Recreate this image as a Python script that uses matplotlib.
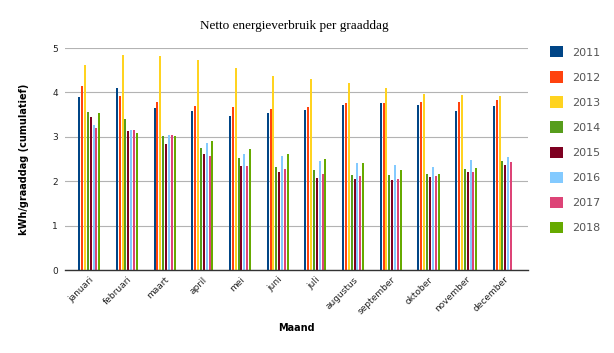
import matplotlib

matplotlib.use("Agg")
import matplotlib.pyplot as plt
import numpy as np

months = ["januari", "februari", "maart", "april", "mei", "juni", "juli",
          "augustus", "september", "oktober", "november", "december"]
years = ["2011", "2012", "2013", "2014", "2015", "2016", "2017", "2018"]

v2011 = [3.90, 4.10, 3.65, 3.58, 3.48, 3.54, 3.60, 3.72, 3.76, 3.72, 3.59, 3.70]
v2012 = [4.14, 3.91, 3.79, 3.69, 3.67, 3.63, 3.67, 3.77, 3.76, 3.79, 3.79, 3.84]
v2013 = [4.62, 4.85, 4.83, 4.73, 4.55, 4.38, 4.30, 4.22, 4.09, 3.97, 3.94, 3.91]
v2014 = [3.56, 3.40, 3.02, 2.75, 2.52, 2.33, 2.25, 2.14, 2.14, 2.16, 2.28, 2.46]
v2015 = [3.45, 3.13, 2.84, 2.61, 2.34, 2.21, 2.08, 2.05, 2.02, 2.10, 2.21, 2.36]
v2016 = [3.27, 3.16, 3.04, 2.86, 2.62, 2.57, 2.45, 2.41, 2.36, 2.33, 2.48, 2.55]
v2017 = [3.20, 3.16, 3.04, 2.57, 2.35, 2.27, 2.16, 2.11, 2.05, 2.12, 2.21, 2.43]
v2018 = [3.54, 3.08, 3.02, 2.90, 2.73, 2.61, 2.50, 2.41, 2.25, 2.16, 2.30, np.nan]

series = [v2011, v2012, v2013, v2014, v2015, v2016, v2017, v2018]
colors = ["#004586", "#ff420e", "#ffd320", "#579d1c", "#7e0021",
          "#83caff", "#dd4477", "#66aa00"]

fig = plt.figure(figsize=(6.14, 3.53), dpi=100)
ax = fig.add_axes([0.106, 0.235, 0.754, 0.629])

x = np.arange(len(months))
slot = 0.0763
width = 0.053
for i, (vals, col, yr) in enumerate(zip(series, colors, years)):
    offs = (i - 3.5) * slot
    ax.bar(x + offs, vals, width=width, color=col, label=yr, zorder=3)

ax.set_ylim(0, 5)
ax.set_xlim(-0.64, 11.64)
ax.set_yticks(range(6))
ax.yaxis.grid(True, color="#b3b3b3", linewidth=0.8, zorder=0)
for s in ["top", "right", "left"]:
    ax.spines[s].set_visible(False)
ax.spines["bottom"].set_color("#333333")
ax.spines["bottom"].set_linewidth(1.0)
ax.spines["bottom"].set_zorder(4)
ax.tick_params(axis="both", length=0, labelsize=6.5, colors="#222222")
ax.tick_params(axis="y", pad=5)
ax.set_xticks(x)
ax.set_xticklabels(months, rotation=45, ha="right", rotation_mode="anchor",
                   fontsize=6.5)

ax.set_xlabel("Maand", fontsize=7, fontweight="bold", labelpad=5)
ax.set_ylabel("kWh/graaddag (cumulatief)", fontsize=7, fontweight="bold",
              labelpad=17)
fig.text(0.48, 0.925, "Netto energieverbruik per graaddag",
         family="Liberation Serif", fontsize=9.5, ha="center", va="center")

leg = ax.legend(loc="upper left", bbox_to_anchor=(0.888, 0.882),
                bbox_transform=fig.transFigure, frameon=False,
                fontsize=8, handlelength=1.2, handleheight=1.2,
                handletextpad=0.8, labelspacing=1.23, borderaxespad=0)
for t in leg.get_texts():
    t.set_color("#555555")

fig.savefig("out.png", dpi=100)
